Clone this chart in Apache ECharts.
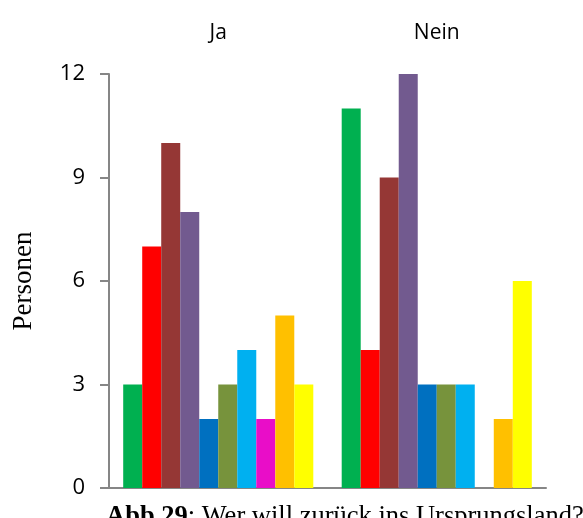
<!DOCTYPE html>
<html>
<head>
<meta charset="utf-8">
<script src="https://cdn.jsdelivr.net/npm/echarts@6/dist/echarts.min.js"></script>
<style>html,body{margin:0;padding:0;background:#fff}#c{width:583px;height:518px}</style>
</head>
<body>
<div id="c"></div>
<script>
var categories = ['Ja', 'Nein'];
var yTicks = [0, 3, 6, 9, 12];
var s1 = [3, 11];
var s2 = [7, 4];
var s3 = [10, 9];
var s4 = [8, 12];
var s5 = [2, 3];
var s6 = [3, 3];
var s7 = [4, 3];
var s8 = [2, 0];
var s9 = [5, 2];
var s10 = [3, 6];
var seriesValues = [s1, s2, s3, s4, s5, s6, s7, s8, s9, s10];
var colors = ['#00B050', '#FF0000', '#953735', '#725A8F', '#0070C0', '#77933C', '#00B0F0', '#E90DC8', '#FFC000', '#FFFF00'];
var yTitle = 'Personen';
var captionBold = 'Abb.29';
var captionRest = ': Wer will zurück ins Ursprungsland?';

var chart = echarts.init(document.getElementById('c'), null, {renderer: 'canvas'});
var series = seriesValues.map(function (vals, i) {
  return {
    type: 'bar',
    name: 'Serie ' + (i + 1),
    data: vals,
    xAxisIndex: 0,
    barGap: '0%',
    barCategoryGap: '13%',
    itemStyle: {color: colors[i]},
    silent: true
  };
});
chart.setOption({
  animation: false,
  backgroundColor: '#fff',
  grid: {left: 109, right: 37, top: 74, bottom: 30, containLabel: false},
  xAxis: [{
    type: 'category',
    data: categories,
    position: 'bottom',
    axisLine: {show: true, lineStyle: {color: '#868686', width: 2}},
    axisTick: {show: false},
    axisLabel: {show: false},
    splitLine: {show: false}
  }, {
    type: 'category',
    data: categories,
    position: 'top',
    axisLine: {show: false},
    axisTick: {show: false},
    axisLabel: {show: true, margin: 30, fontFamily: 'Open Sans', fontSize: 21, color: '#000'},
    splitLine: {show: false}
  }],
  yAxis: {
    type: 'value',
    min: yTicks[0],
    max: yTicks[yTicks.length - 1],
    interval: 3,
    name: yTitle,
    nameLocation: 'middle',
    nameGap: 72,
    nameTextStyle: {fontFamily: 'Liberation Serif', fontSize: 27, color: '#000'},
    axisLine: {show: true, lineStyle: {color: '#868686', width: 2}},
    axisTick: {show: true, inside: false, length: 9, lineStyle: {color: '#868686', width: 2}},
    axisLabel: {margin: 24, fontFamily: 'Open Sans', fontSize: 22, color: '#000'},
    splitLine: {show: false}
  },
  series: series,
  graphic: [{
    type: 'text',
    left: 106,
    top: 504,
    style: {
      text: '{b|' + captionBold + '}{r|' + captionRest + '}',
      rich: {
        b: {fontFamily: 'Liberation Serif', fontWeight: 'bold', fontSize: 26.5, fill: '#000', lineHeight: 30},
        r: {fontFamily: 'Liberation Serif', fontSize: 26.5, fill: '#000', lineHeight: 30}
      }
    }
  }]
});
</script>
</body>
</html>
